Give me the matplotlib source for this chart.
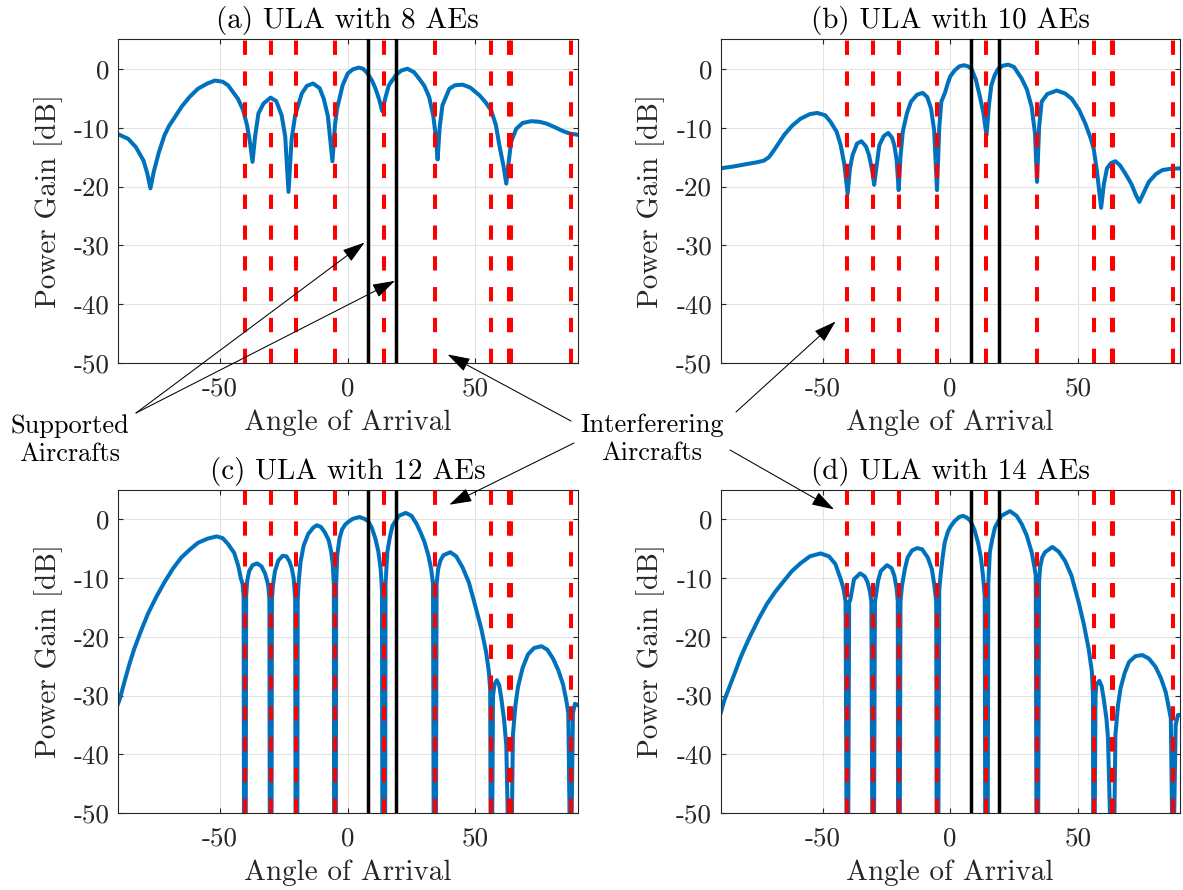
import matplotlib
matplotlib.use("Agg")
import matplotlib.pyplot as plt

plt.rcParams['font.family'] = 'cmr10'
plt.rcParams['mathtext.fontset'] = 'cm'
plt.rcParams['axes.unicode_minus'] = False

# angles of the interfering (red) and supported (black) aircraft
interferers = [-40.3, -30.2, -20.1, -5.0, 14.2, 34.1, 56.2, 63.2, 63.9, 87.3]
supported = [8.0, 19.0]

titles = ['(a) ULA with 8 AEs', '(b) ULA with 10 AEs',
          '(c) ULA with 12 AEs', '(d) ULA with 14 AEs']

# beam patterns (angle in deg, gain in dB)
ang_8 = [-90, -86, -83, -80, -78.5, -77.3, -76, -74, -71.8, -70, -68, -65, -62, -58.7, -55,
         -52, -49, -46.9, -43, -41, -39.5, -38.3, -37.3, -36.3, -35, -33, -30.2, -28,
         -25.9, -24.5, -23.2, -22, -20.6, -18, -16, -13.6, -11, -9.4, -7.8, -6.0, -5,
         -4.2, -2, 0, 2, 4.3, 6, 7.6, 9.5, 10.9, 12.3, 13.5, 14.7, 16.1, 19, 21, 23.4,
         26, 28, 30, 31.9, 33.5, 34.5, 35.2, 36, 37.1, 39.8, 42, 45, 48, 51.6, 54, 56.2,
         58, 59.4, 61, 62.1, 63, 64, 66, 68.5, 71.9, 75, 77.8, 81, 84.4, 87, 90]
gain_8 = [-11.1, -11.9, -13.3, -15.6, -17.8, -20.3, -17.5, -14.2, -11.3, -9.7, -8.4, -6.4,
          -4.8, -3.4, -2.5, -2.0, -2.2, -2.8, -5.1, -7.0, -9.5, -12.5, -15.8, -11.5, -7.6,
          -5.9, -4.9, -5.5, -7.9, -11.5, -20.9, -12.0, -7.9, -4.2, -2.9, -2.5, -3.3, -5.1,
          -8.0, -15.7, -9.5, -6.8, -2.8, -0.8, -0.1, 0.2, 0.0, -0.7, -2.0, -3.4, -5.2, -7.2,
          -5.0, -2.8, -1.0, -0.3, 0.0, -0.6, -1.7, -2.9, -4.8, -8.0, -11.5, -15.4, -10.0,
          -6.2, -3.4, -2.8, -2.7, -3.2, -4.5, -5.7, -7.1, -9.5, -13.0, -16.5, -19.5, -16.0,
          -12.4, -10.2, -9.2, -8.9, -9.0, -9.3, -9.9, -10.6, -11.0, -11.2]

ang_10 = [-90, -85, -80, -76, -73, -71, -69, -67, -65, -62, -58.7, -55, -52.1, -49, -46.9,
          -44.5, -42.9, -41.5, -40.2, -39.3, -38.3, -36.5, -34.8, -33, -31.8, -30.5, -29.8,
          -29, -27.8, -26, -24.3, -22.8, -21.9, -21, -20.2, -19.5, -18.6, -17, -15.4, -13,
          -10.8, -9, -7.5, -6.3, -5.2, -4.3, -3.5, -2, -1, 0, 1.7, 3.5, 5.4, 7, 8.3, 10,
          11.5, 13, 14.2, 15.2, 16.1, 17.5, 18.8, 20.5, 22.7, 25, 28, 30, 31.9, 33.2, 34,
          34.8, 35.8, 38, 41.7, 45, 47.6, 50.5, 52.9, 55, 56.2, 57.5, 59.1, 60.2, 61.4, 63,
          64.7, 66.5, 68.6, 71, 72.8, 74.1, 75.5, 77.8, 80.5, 83.1, 86, 90]
gain_10 = [-16.9, -16.6, -16.2, -15.9, -15.6, -15.0, -13.8, -12.5, -11.2, -9.7, -8.5, -7.7,
           -7.5, -7.9, -9.0, -10.7, -13.0, -16.2, -21.2, -17.0, -14.7, -12.7, -12.3, -13.2,
           -14.7, -17.5, -19.7, -17.0, -13.0, -11.4, -10.9, -11.7, -13.0, -15.5, -20.6,
           -15.0, -10.7, -7.6, -5.6, -4.4, -4.1, -4.8, -6.8, -10.5, -20.6, -10.0, -5.6, -4.0,
           -2.5, -1.3, -0.3, 0.4, 0.6, 0.4, 0.0, -1.8, -4.5, -7.5, -11.3, -6.0, -2.8, -1.0,
           0.0, 0.5, 0.7, 0.3, -1.7, -3.5, -6.5, -11.0, -19.2, -10.0, -5.6, -4.3, -3.7, -4.2,
           -5.1, -7.0, -9.3, -11.8, -13.6, -17.5, -23.6, -19.5, -16.9, -16.0, -15.7, -16.4,
           -17.8, -19.6, -21.5, -22.6, -21.3, -19.2, -17.9, -17.2, -17.0, -16.9]

ang_12 = [-90, -89.3, -87.5, -85.5, -83.6, -81, -78.3, -75, -71.8, -68.5, -65.2, -62, -58.7,
          -55, -51.4, -49, -46.9, -44.5, -42.9, -41.9, -41.2, -40.8, -40.65, -39.95, -39.8,
          -39.4, -38.6, -37.3, -35.5, -33.8, -32.4, -31.5, -31.1, -30.7, -30.55, -29.85,
          -29.7, -29.3, -28.5, -27.2, -25.5, -24, -22.8, -21.9, -21.2, -21.0, -20.6, -20.45,
          -19.75, -19.6, -19.2, -18.5, -17.3, -15.5, -13.5, -12.1, -10.5, -9, -7.5, -6.5,
          -5.9, -5.45, -5.35, -4.65, -4.55, -4.1, -3.2, -2.2, -1, 0, 2, 4.6, 6.5, 8, 9.5,
          10.9, 12, 12.9, 13.4, 13.55, 14.65, 14.8, 15.5, 16.5, 17.5, 20, 22.7, 25, 27,
          28.5, 30, 31.5, 32.7, 33.4, 33.65, 34.55, 34.8, 35.4, 36.3, 37.5, 40.2, 42.5, 45,
          47.5, 50.3, 52.3, 54.2, 55.3, 55.8, 55.95, 56.6, 56.9, 57.5, 58.4, 59.3, 60.1,
          61.2, 62.1, 62.7, 64.3, 64.7, 65.7, 66.7, 68.5, 70.6, 73, 75.9, 78.2, 80.4, 82.5,
          84.4, 85.6, 86.4, 86.9, 87.7, 88.2, 89, 90]
gain_12 = [-31.4, -30.6, -27.7, -24.6, -22.0, -19.0, -16.1, -13.2, -10.7, -8.4, -6.5, -5.2,
           -4.0, -3.3, -2.9, -3.2, -4.2, -5.7, -7.9, -10.0, -11.0, -13.0, -51, -51, -13.0,
           -10.5, -8.8, -7.8, -7.5, -8.0, -9.2, -10.6, -11.5, -13.5, -51, -51, -13.5, -11.2,
           -8.8, -7.0, -6.2, -6.3, -7.2, -8.4, -10.0, -11.0, -13.5, -51, -51, -13.5, -10.5,
           -7.3, -4.5, -2.5, -1.4, -1.0, -1.3, -2.2, -3.5, -5.5, -7.5, -11.0, -51, -51, -11.0,
           -6.0, -3.2, -1.7, -0.9, -0.5, 0.1, 0.4, 0.1, -0.3, -1.5, -3.4, -5.5, -8.5, -12.0,
           -51, -51, -11.0, -5.6, -3.0, -1.1, 0.6, 1.1, 0.6, -0.8, -2.2, -3.8, -6.0, -8.5,
           -11.0, -51, -51, -11.0, -8.5, -7.0, -6.1, -5.6, -6.3, -8.2, -10.8, -15.3, -18.6,
           -22.6, -26.0, -29.0, -51, -51, -30.0, -28.1, -27.4, -28.2, -30.3, -34.0, -38.4,
           -51, -51, -36.7, -31.6, -28.5, -25.3, -23.0, -21.9, -21.6, -22.2, -23.7, -25.7,
           -28.2, -30.8, -33.0, -51, -51, -33.0, -31.4, -31.6]

ang_14 = [-90, -88.5, -86.2, -84, -82.3, -80, -78.3, -75, -71.8, -68.5, -65.2, -62, -58.7,
          -55, -50.8, -47.5, -45, -42.9, -41.8, -41.0, -40.65, -39.95, -39.6, -39.2, -37.7,
          -35.3, -33.5, -32.4, -31.5, -30.9, -30.55, -29.85, -29.5, -29.1, -28.3, -27.2,
          -24.8, -23, -21.9, -21, -20.55, -20.45, -19.75, -19.5, -18.9, -17.8, -16.7, -15,
          -13, -11, -8.8, -7.2, -6.2, -5.5, -5.35, -4.65, -4.3, -3.8, -3, -2.2, -1, 0, 1.7,
          3.5, 5, 6.5, 8, 9.5, 10.9, 12, 12.8, 13.5, 13.7, 14.7, 14.9, 15.5, 16.5, 17.5, 20,
          23.4, 26, 28, 30, 31.9, 33, 33.5, 33.75, 34.45, 34.8, 35.2, 36, 37.1, 40, 42.5, 45,
          47.5, 50.3, 52.3, 54.2, 55.5, 55.9, 56.0, 56.6, 56.9, 57.2, 58.4, 59.3, 60.1, 61.2,
          61.8, 62.6, 64.3, 64.7, 65.7, 66.7, 68.3, 70, 72.5, 75.2, 77.8, 80.4, 82.5, 84.4,
          85.5, 86.4, 86.9, 87.7, 88.3, 89.2, 90]
gain_14 = [-33.1, -30.8, -28.2, -25.7, -23.7, -21.4, -19.8, -16.9, -14.4, -12.3, -10.5, -8.8,
           -7.5, -6.3, -5.8, -6.3, -7.6, -10.2, -11.8, -14.0, -51, -51, -14.0, -13.8, -10.2,
           -9.2, -9.7, -10.7, -12.2, -14.0, -51, -51, -14.0, -13.0, -10.5, -8.8, -7.8, -8.3,
           -9.6, -11.8, -14.0, -51, -51, -14.0, -11.3, -8.5, -6.5, -5.3, -4.9, -5.1, -6.5,
           -8.5, -11.3, -14.0, -51, -51, -12.0, -9.6, -6.5, -4.0, -2.2, -1.3, -0.3, 0.4, 0.6,
           0.3, -0.3, -1.8, -4.0, -6.5, -9.5, -13.0, -51, -51, -11.0, -5.6, -3.3, -1.4, 0.6,
           1.4, 0.6, -0.8, -2.8, -5.6, -8.2, -9.6, -51, -51, -10.5, -8.2, -6.5, -5.6, -4.7,
           -5.5, -7.1, -9.6, -14.1, -17.8, -22.0, -26.0, -30.0, -51, -51, -30.0, -28.2, -27.5,
           -28.4, -30.5, -34.0, -37.3, -51, -51, -36.7, -31.7, -28.8, -26.2, -24.3, -23.3,
           -23.1, -23.7, -25.1, -27.0, -29.4, -31.8, -33.9, -51, -51, -35.0, -33.3, -33.3]

curves = [(ang_8, gain_8), (ang_10, gain_10), (ang_12, gain_12), (ang_14, gain_14)]

W, H = 1183, 890
fig = plt.figure(figsize=(W / 100, H / 100), dpi=100)

# axes rectangles in pixels: left, top, right, bottom
rects = [(118, 39.3, 577.5, 363.3), (720.5, 39.3, 1180, 363.3),
         (118, 490, 577.5, 813), (720.5, 490, 1180, 813)]

axes = []
for (l, t, r, b), title, (ang, gain) in zip(rects, titles, curves):
    ax = fig.add_axes([l / W, 1 - b / H, (r - l) / W, (b - t) / H])
    ax.plot(ang, gain, color='#0072BD', lw=2.9, zorder=2)
    for x in interferers:
        ax.axvline(x, color='#FF0000', lw=2.9, dashes=(3.55, 4.1), zorder=3)
    for x in supported:
        ax.axvline(x, color='k', lw=2.5, zorder=4)
    ax.set_xlim(-90, 90)
    ax.set_ylim(-50, 5)
    ax.set_xticks([-50, 0, 50])
    ax.set_yticks([-50, -40, -30, -20, -10, 0])
    ax.grid(True, color='#e3e3e3', lw=0.8)
    ax.set_axisbelow(True)
    ax.tick_params(direction='in', top=True, right=True, length=3.6, width=0.8,
                   color='#262626', labelcolor='#262626', labelsize=19.5)
    ax.tick_params(axis='x', pad=10)
    ax.tick_params(axis='y', pad=6)
    for s in ax.spines.values():
        s.set_color('#262626')
        s.set_linewidth(0.8)
    ax.set_title(title, fontsize=21, pad=8)
    ax.set_xlabel('Angle of Arrival', fontsize=21, color='#262626')
    ax.set_ylabel('Power Gain [dB]', fontsize=21, color='#262626')
    ax.xaxis.set_label_coords(0.5, -0.144)
    ax.yaxis.set_label_coords(-0.12, 0.5)
    axes.append(ax)

fig.text(70 / W, 1 - 440 / H, 'Supported\nAircrafts', fontsize=19, ha='center',
         va='center', multialignment='center', linespacing=1.25)
fig.text(652 / W, 1 - 439 / H, 'Interferering\nAircrafts', fontsize=19, ha='center',
         va='center', multialignment='center', linespacing=1.25)

arrow = dict(arrowstyle='-|>,head_length=0.7,head_width=0.22', color='k', lw=0.75,
             shrinkA=0, shrinkB=0, mutation_scale=20)
# (axis index, tip in data coords, start in figure pixels)
arrows = [(0, (6.6, -29.5), (136, 413)), (0, (18.5, -36.0), (136, 413)),
          (0, (39.1, -48.5), (571, 421)), (1, (-44.9, -42.9), (736, 412)),
          (2, (39.8, 2.5), (574, 443)), (3, (-45.5, 1.7), (730, 450))]
for i, tip, (sx, sy) in arrows:
    axes[i].annotate('', xy=tip, xycoords='data', xytext=(sx / W, 1 - sy / H),
                     textcoords='figure fraction', arrowprops=arrow)

fig.savefig('out.png', dpi=100)
